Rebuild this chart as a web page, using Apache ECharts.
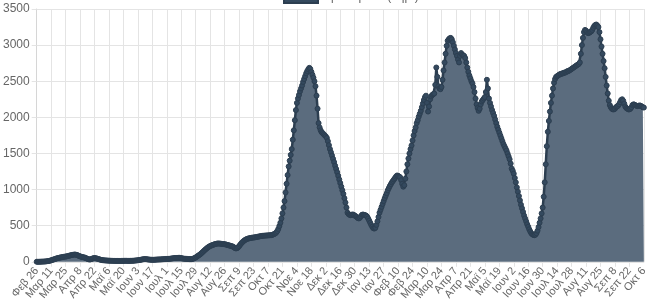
<!DOCTYPE html>
<html>
<head>
<meta charset="utf-8">
<script src="https://cdn.jsdelivr.net/npm/echarts@6/dist/echarts.min.js"></script>
<style>
html,body{margin:0;padding:0;background:#fff;}
#chart{width:650px;height:303px;}
</style>
</head>
<body>
<div id="chart"></div>
<script>
// Daily values (7-day average), one array per month
const feb2020 = [0,0,0,1];
const mar2020 = [1,2,2,3,4,5,7,9,12,16,20,25,30,35,40,45,50,53,56,60,62,65,68,70,72,75,78,82,86,90,93];
const apr2020 = [96,99,100,98,95,88,80,75,70,66,63,60,55,48,42,36,32,33,38,45,50,52,50,46,41,37,32,28,25,22];
const may2020 = [20,19,18,17,16,15,15,14,14,13,13,12,12,12,11,11,11,12,12,12,13,13,13,12,12,12,13,13,14,15,16];
const jun2020 = [18,19,21,23,26,29,32,34,36,37,36,34,32,30,29,28,27,27,28,29,30,31,32,32,33,34,35,36,37,38];
const jul2020 = [39,40,41,42,44,46,48,50,52,53,54,55,55,53,50,47,44,42,41,40,39,38,37,37,37,40,45,52,60,70,80];
const aug2020 = [90,100,112,125,138,152,165,178,190,200,210,218,225,230,236,241,245,249,252,253,252,250,248,246,245,243,240,236,232,228,224];
const sep2020 = [220,216,210,200,190,184,188,200,215,235,252,268,282,294,304,312,318,322,326,329,332,334,335,338,340,343,346,349,352,355];
const oct2020 = [358,360,361,362,363,364,365,366,367,368,372,378,385,392,405,425,455,495,540,600,670,750,840,960,1080,1200,1320,1400,1480,1560,1690];
const nov2020 = [1820,1960,2100,2200,2260,2310,2360,2400,2440,2490,2530,2570,2610,2640,2665,2685,2670,2630,2590,2550,2500,2430,2300,2120,1920,1860,1820,1795,1780,1765];
const dec2020 = [1750,1735,1715,1670,1615,1560,1515,1470,1425,1380,1330,1285,1240,1190,1140,1090,1040,990,940,880,820,750,680,660,650,645,650,655,650,640,630];
const jan2021 = [620,605,600,610,630,650,655,650,645,640,625,600,570,540,510,485,465,460,470,510,560,620,680,720,760,800,840,880,915,950,990];
const feb2021 = [1020,1050,1075,1100,1120,1140,1160,1180,1195,1190,1180,1170,1130,1080,1040,1060,1150,1250,1350,1430,1500,1560,1610,1680,1750,1810,1860,1920];
const mar2021 = [1960,2010,2050,2090,2140,2190,2240,2280,2300,2200,2080,2150,2250,2290,2310,2320,2330,2450,2690,2560,2430,2400,2390,2420,2520,2650,2760,2880,2990,3060,3080];
const apr2021 = [3095,3100,3080,3040,2990,2940,2890,2850,2800,2760,2850,2890,2870,2860,2850,2820,2760,2690,2630,2580,2540,2500,2470,2420,2350,2260,2180,2130,2090,2120];
const may2021 = [2180,2220,2240,2260,2280,2350,2520,2400,2260,2200,2150,2100,2060,2020,1970,1920,1870,1830,1790,1750,1710,1670,1630,1600,1570,1540,1500,1460,1420,1360,1290];
const jun2021 = [1260,1220,1160,1100,1030,970,910,850,790,740,690,640,600,560,520,485,450,420,395,380,372,368,375,395,430,480,540,600,670,750];
const jul2021 = [900,1100,1350,1600,1800,1950,2080,2200,2300,2400,2480,2530,2560,2570,2580,2590,2600,2600,2610,2610,2620,2620,2630,2640,2640,2650,2660,2670,2680,2690,2700];
const aug2021 = [2710,2720,2730,2740,2760,2880,3000,3100,3180,3210,3200,3180,3165,3170,3180,3190,3210,3240,3265,3280,3285,3270,3250,3180,3080,2980,2880,2780,2680,2560,2440];
const sep2021 = [2330,2230,2170,2140,2120,2110,2110,2120,2140,2150,2160,2180,2210,2240,2250,2230,2190,2150,2130,2120,2110,2110,2120,2140,2170,2180,2175,2165,2160,2155];
const oct2021 = [2160,2165,2160,2150,2140,2135];

// Month names (Greek abbreviations) and first day of each month block
const monthNames = ['Φεβ','Μαρ','Απρ','Μαϊ','Ιουν','Ιουλ','Αυγ','Σεπ','Οκτ','Νοε','Δεκ','Ιαν','Φεβ','Μαρ','Απρ','Μαϊ','Ιουν','Ιουλ','Αυγ','Σεπ','Οκτ'];
const monthStartDay = [26,1,1,1,1,1,1,1,1,1,1,1,1,1,1,1,1,1,1,1,1];
const monthValues = [feb2020,mar2020,apr2020,may2020,jun2020,jul2020,aug2020,sep2020,oct2020,nov2020,dec2020,jan2021,feb2021,mar2021,apr2021,may2021,jun2021,jul2021,aug2021,sep2021,oct2021];
const seriesName = 'Κρούσματα (7ήμ.)';
const yTicks = {min:0, max:3500, interval:500};
const labelStep = 14;

const categories = [];
const values = [];
monthValues.forEach((arr, m) => {
  arr.forEach((v, i) => {
    categories.push(monthNames[m] + ' ' + (monthStartDay[m] + i));
    values.push(v);
  });
});
const lastIndex = categories.length - 1;

const chart = echarts.init(document.getElementById('chart'), null, {renderer:'canvas'});
const gridColor = '#e4e4e4';
const labelStyle = {rotate: 50, fontSize: 11, color: '#666', margin: 7, hideOverlap: false};
chart.setOption({
  animation: false,
  textStyle: {fontFamily: 'Liberation Sans, Arial, Helvetica, sans-serif'},
  legend: {
    data: [seriesName],
    top: -10,
    left: 283,
    padding: 0,
    icon: 'rect',
    itemWidth: 34,
    itemHeight: 12,
    itemGap: 10,
    textStyle: {fontSize: 12, color: '#666'}
  },
  grid: {left: 32, right: 2, top: 9, bottom: 40, containLabel: false},
  xAxis: [{
    type: 'category',
    data: categories,
    boundaryGap: false,
    axisLine: {show: true, lineStyle: {color: gridColor}},
    axisTick: {show: true, interval: labelStep - 1, length: 5, lineStyle: {color: gridColor}},
    splitLine: {show: true, interval: labelStep - 1, lineStyle: {color: gridColor, width: 1}},
    axisLabel: Object.assign({interval: labelStep - 1, showMinLabel: false, showMaxLabel: false}, labelStyle)
  }, {
    type: 'category',
    data: categories,
    position: 'bottom',
    boundaryGap: false,
    axisLine: {show: false},
    axisTick: {show: false},
    splitLine: {show: false},
    axisLabel: Object.assign({interval: (i) => i === 0 || i === lastIndex}, labelStyle)
  }],
  yAxis: {
    type: 'value',
    min: yTicks.min,
    max: yTicks.max,
    interval: yTicks.interval,
    axisLine: {show: true, lineStyle: {color: '#d6d6d6'}},
    axisTick: {show: true, length: 5, lineStyle: {color: gridColor}},
    splitLine: {show: true, lineStyle: {color: gridColor}},
    axisLabel: {fontSize: 12, color: '#666', margin: 7, formatter: v => String(v)}
  },
  series: [{
    name: seriesName,
    type: 'line',
    xAxisIndex: 0,
    data: values,
    showSymbol: true,
    showAllSymbol: true,
    symbol: 'circle',
    symbolSize: 5,
    itemStyle: {color: '#34495e', borderColor: '#2c3e50', borderWidth: 1},
    lineStyle: {color: '#2c3e50', width: 2.5},
    areaStyle: {color: '#5b6c7e', opacity: 1},
    emphasis: {disabled: true}
  }]
});
</script>
</body>
</html>
